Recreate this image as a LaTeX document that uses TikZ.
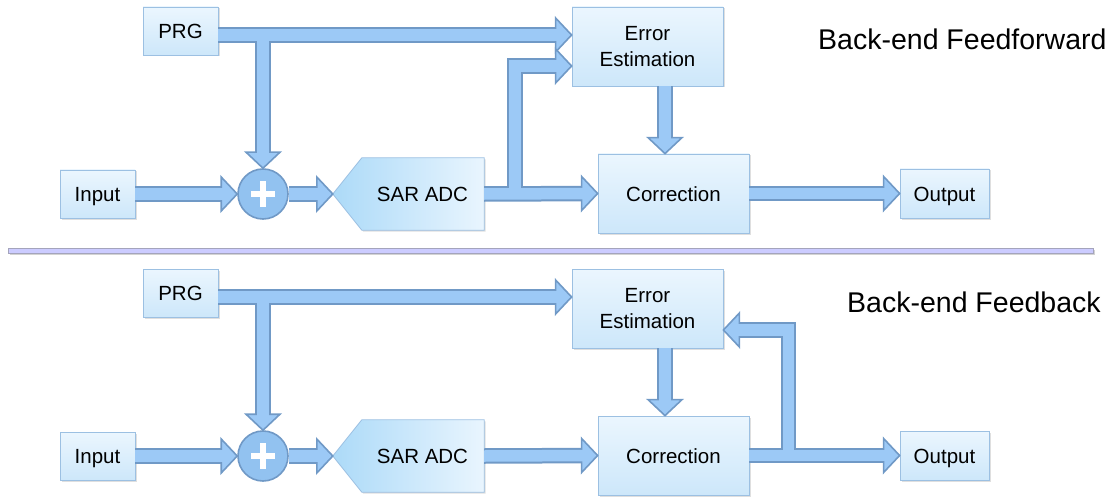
\documentclass[tikz,border=0pt]{standalone}
\usepackage{fontspec}
\setmainfont{Liberation Sans}
\usetikzlibrary{calc,shadows}
\definecolor{arrF}{HTML}{9CC9F6}
\definecolor{arrB}{HTML}{7099C6}
\definecolor{boxT}{HTML}{EBF6FE}
\definecolor{boxBt}{HTML}{CDE7FA}
\definecolor{boxD}{HTML}{9CC0E2}
\definecolor{adcL}{HTML}{ACDAF8}
\definecolor{adcR}{HTML}{E9F5FE}
\definecolor{sumF}{HTML}{92C2F0}
\definecolor{sepF}{HTML}{CCCCFF}
\definecolor{sepD}{HTML}{A4A4BC}
\tikzset{
  blk/.style={rectangle, draw=boxD, line width=0.8pt, top color=boxT, bottom color=boxBt,
    inner sep=0pt, font=\fontsize{20.5}{24}\selectfont, align=center,
    drop shadow={shadow xshift=1.5pt, shadow yshift=-1.5pt, opacity=0.25}},
  one/.style={text height=15pt, text depth=0pt},
  adcbox/.style={rectangle, inner sep=0pt, minimum width=151pt, minimum height=72pt,
    font=\fontsize{20.5}{24}\selectfont},
  sumnode/.style={circle, draw=arrB, fill=sumF, line width=1.6pt, minimum size=50pt, inner sep=0pt},
  ttl/.style={font=\fontsize{28.5}{32}\selectfont, inner sep=0pt},
  shB/.style={draw=arrB, line width=15.5pt, line join=miter, shorten >=15pt},
  shF/.style={draw=arrF, line width=11.5pt, line join=miter, shorten >=13pt},
  hd/.style={fill=arrF, draw=arrB, line width=1.6pt, line join=miter},
  pics/hR/.style={code={\filldraw[hd] (0,0) -- (-16,-17) -- (-16,17) -- cycle;}},
  pics/hL/.style={code={\filldraw[hd] (0,0) -- (16,-17) -- (16,17) -- cycle;}},
  pics/hD/.style={code={\filldraw[hd] (0,0) -- (-17,-16) -- (17,-16) -- cycle;}},
}
\newcommand{\myshafts}[1]{%
  \draw[#1] (pA) -- (pA -| eeA.west);
  \draw[#1] (pA -| sumA.north) -- (sumA.north);
  \draw[#1] (inA.east) -- (sumA.west);
  \draw[#1] (sumA.east) -- (adcA.west);
  \draw[#1] (adcA.east) -- (corA.west);
  \draw[#1] (jA) -- (jA |- qA) -- (qA);
  \draw[#1] (eA) -- (eA |- corA.north);
  \draw[#1] (corA.east) -- (outA.west);
  \draw[#1] (pB) -- (pB -| eeB.west);
  \draw[#1] (pB -| sumB.north) -- (sumB.north);
  \draw[#1] (inB.east) -- (sumB.west);
  \draw[#1] (sumB.east) -- (adcB.west);
  \draw[#1] (adcB.east) -- (corB.west);
  \draw[#1] (eB) -- (eB |- corB.north);
  \draw[#1] (corB.east) -- (outB.west);
  \draw[#1] (jB) -- (jB |- fB) -- (fB);
}
\begin{document}
\begin{tikzpicture}[x=1pt,y=-1pt]
\useasboundingbox (0,0) rectangle (1115,497);
% separator
\node[rectangle, draw=sepD, fill=sepF, line width=0.6pt, minimum width=1085pt, minimum height=5pt, inner sep=0pt,
  drop shadow={shadow xshift=1.5pt, shadow yshift=-2pt, opacity=0.35}] (sep) at (550.5,250.5) {};
% ================= top: feedforward =================
\node[blk, one, minimum width=75pt, minimum height=48pt] (prgA) at (180.5,31) {PRG};
\node[blk, one, minimum width=75pt, minimum height=48pt] (inA) at (97.5,194) {Input};
\node[sumnode] (sumA) at (263,194) {};
\node[adcbox] (adcA) at (408.5,194) {};
\node[blk, minimum width=151pt, minimum height=79pt] (eeA) at (647.5,46.5) {Error\\[2pt]Estimation};
\node[blk, one, minimum width=151pt, minimum height=79pt] (corA) at (673.5,193.5) {Correction};
\node[blk, one, minimum width=89pt, minimum height=49pt] (outA) at (944.5,193.5) {Output};
\node[ttl, anchor=base west] (ttlA) at (818,50) {Back-end Feedforward};
% ================= bottom: feedback =================
\node[blk, one, minimum width=75pt, minimum height=48pt] (prgB) at (180.5,293) {PRG};
\node[blk, one, minimum width=75pt, minimum height=48pt] (inB) at (97.5,456) {Input};
\node[sumnode] (sumB) at (263,456) {};
\node[adcbox] (adcB) at (408.5,456) {};
\node[blk, minimum width=151pt, minimum height=79pt] (eeB) at (647.5,308.5) {Error\\[2pt]Estimation};
\node[blk, one, minimum width=151pt, minimum height=79pt] (corB) at (673.5,455.5) {Correction};
\node[blk, one, minimum width=89pt, minimum height=49pt] (outB) at (944.5,455.5) {Output};
\node[ttl, anchor=base west] (ttlB) at (847,312) {Back-end Feedback};
% ADC shapes
\foreach \a in {adcA,adcB}{
  \shade[left color=adcL, right color=adcR, drop shadow={shadow xshift=1.5pt, shadow yshift=-1.5pt, opacity=0.25}]
    (\a.west) -- ($(\a.north west)+(29,0)$) -- (\a.north east) -- (\a.south east) -- ($(\a.south west)+(29,0)$) -- cycle;
  \draw[draw=boxD, line width=0.8pt, line join=miter]
    (\a.west) -- ($(\a.north west)+(29,0)$) -- (\a.north east) -- (\a.south east) -- ($(\a.south west)+(29,0)$) -- cycle;
  \node[font=\fontsize{20.5}{24}\selectfont, inner sep=0pt, text height=15pt, text depth=0pt] at ($(\a.center)+(14,0)$) {SAR ADC};
}
% plus signs
\foreach \s in {sumA,sumB}{
  \draw[white, line width=6pt] ($(\s.center)+(-12,0)$) -- ($(\s.center)+(12,0)$);
  \draw[white, line width=6pt] ($(\s.center)+(0,-13)$) -- ($(\s.center)+(0,13)$);
}
% coordinates
\coordinate (pA) at ($(prgA.east)+(0,4)$);
\coordinate (pB) at ($(prgB.east)+(0,4)$);
\coordinate (jA) at ($(adcA.east)+(31,0)$);
\coordinate (qA) at ($(eeA.west)+(0,19.5)$);
\coordinate (eA) at ($(eeA.south)+(17.5,0)$);
\coordinate (eB) at ($(eeB.south)+(17.5,0)$);
\coordinate (jB) at ($(corB.east)+(39,0)$);
\coordinate (fB) at ($(eeB.east)+(0,21.5)$);
% shaft borders
\myshafts{shB}
% heads
\pic at (pA -| eeA.west) {hR};
\pic at (sumA.north) {hD};
\pic at (sumA.west) {hR};
\pic at (adcA.west) {hR};
\pic at (corA.west) {hR};
\pic at (qA) {hR};
\pic at (eA |- corA.north) {hD};
\pic at (outA.west) {hR};
\pic at (pB -| eeB.west) {hR};
\pic at (sumB.north) {hD};
\pic at (sumB.west) {hR};
\pic at (adcB.west) {hR};
\pic at (corB.west) {hR};
\pic at (eB |- corB.north) {hD};
\pic at (outB.west) {hR};
\pic at (fB) {hL};
% shaft fills
\myshafts{shF}
\end{tikzpicture}
\end{document}
